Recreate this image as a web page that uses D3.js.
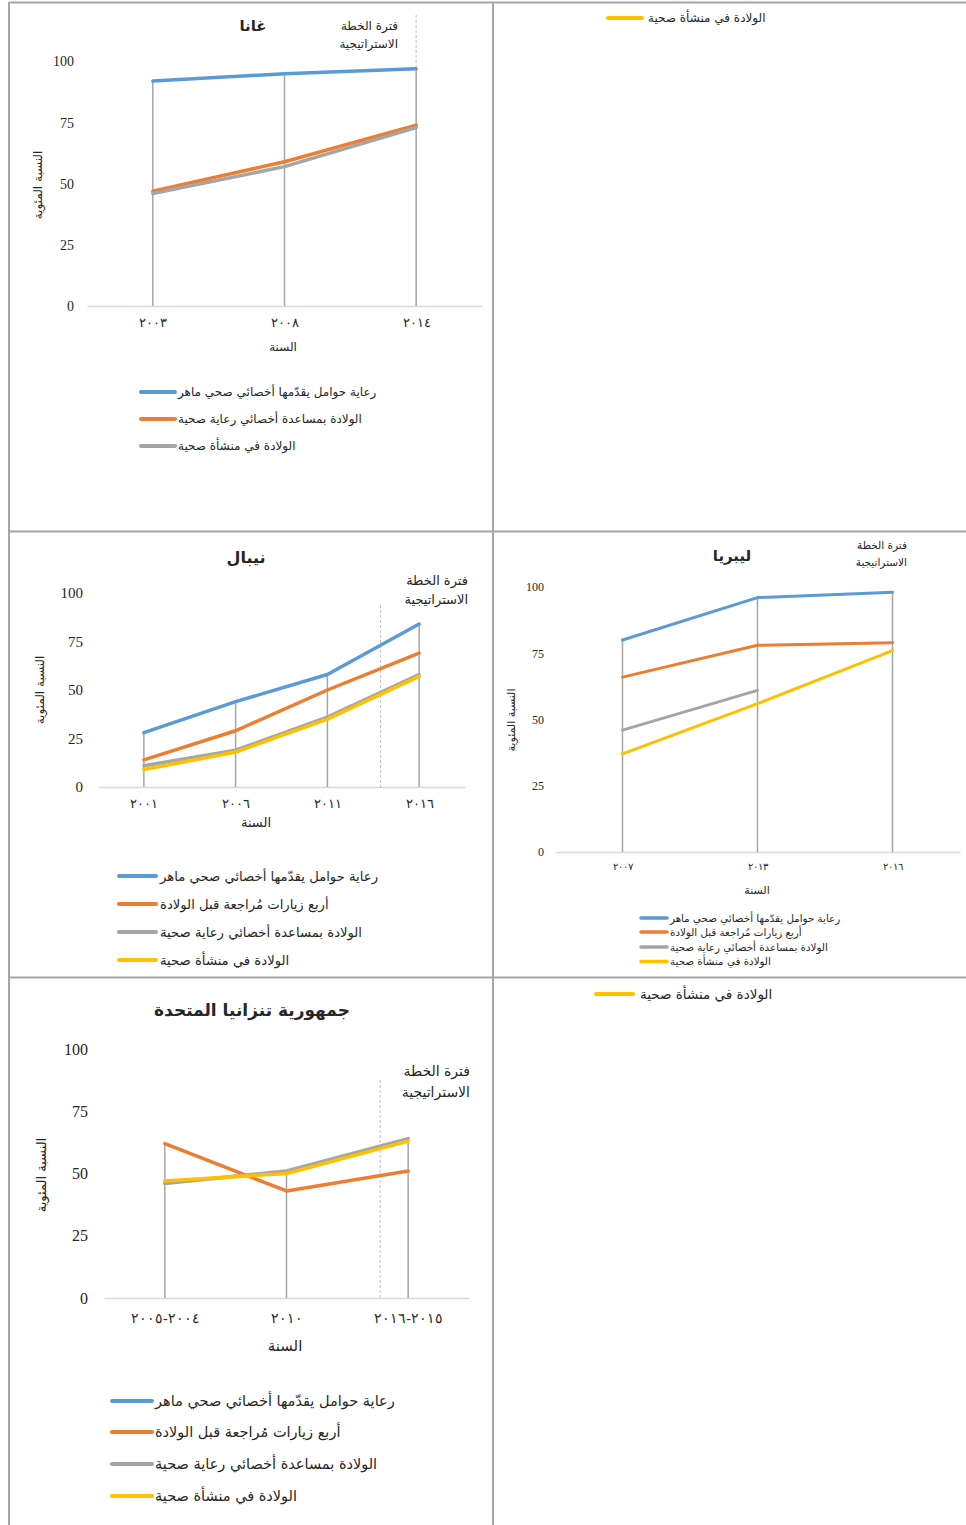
<!DOCTYPE html>
<html><head><meta charset="utf-8">
<script src="https://cdn.jsdelivr.net/npm/d3@7"></script>
<style>
body{margin:0;background:#fff;}
svg{display:block;}
text{fill:#262626;}
</style></head>
<body>
<div id="chart"></div>
<script>
// ---------- DATA ----------
const seriesNames = {
  anc: "رعاية حوامل يقدّمها أخصائي صحي ماهر",
  anc4: "أربع زيارات مُراجعة قبل الولادة",
  sba: "الولادة بمساعدة أخصائي رعاية صحية",
  facility: "الولادة في منشأة صحية"
};
const yTicks = [0, 25, 50, 75, 100];
const yTitle = "النسبة المئوية";
const xTitle = "السنة";
const planLabel = ["فترة الخطة", "الاستراتيجية"];

const ghanaTitle = "غانا";
const ghanaYears = ["٢٠٠٣", "٢٠٠٨", "٢٠١٤"];
const ghanaAnc = [92, 95, 97];
const ghanaSba = [47, 59, 74];
const ghanaFacility = [46, 57, 73];

const nepalTitle = "نيبال";
const nepalYears = ["٢٠٠١", "٢٠٠٦", "٢٠١١", "٢٠١٦"];
const nepalAnc = [28, 44, 58, 84];
const nepalAnc4 = [14, 29, 50, 69];
const nepalSba = [11, 19, 36, 58];
const nepalFacility = [9, 18, 35, 57];

const liberiaTitle = "ليبريا";
const liberiaYears = ["٢٠٠٧", "٢٠١٣", "٢٠١٦"];
const liberiaAnc = [80, 96, 98];
const liberiaAnc4 = [66, 78, 79];
const liberiaSba = [46, 61, null];
const liberiaFacility = [37, 56, 76];

const tanzaniaTitle = "جمهورية تنزانيا المتحدة";
const tanzaniaYears = ["٢٠٠٤-٢٠٠٥", "٢٠١٠", "٢٠١٥-٢٠١٦"];
const tanzaniaAnc = [null, null, null];
const tanzaniaAnc4 = [62, 43, 51];
const tanzaniaSba = [46, 51, 64];
const tanzaniaFacility = [47, 50, 63];

// ---------- STYLE ----------
const colors = { blue: "#5B9BD5", orange: "#ED7D31", gray: "#A5A5A5", yellow: "#FFC000" };
const arabicFont = "'DejaVu Sans', sans-serif";
const numFont = "'Liberation Serif', 'DejaVu Serif', serif";

const W = 966, H = 1525;
const svg = d3.select("#chart").append("svg").attr("width", W).attr("height", H);

// table borders
const border = "#A6A6A6";
const bl = svg.append("g").attr("stroke", border).attr("stroke-width", 2);
bl.append("line").attr("x1", 9).attr("x2", W).attr("y1", 2.5).attr("y2", 2.5);
bl.append("line").attr("x1", 9).attr("x2", 9).attr("y1", 2).attr("y2", H);
bl.append("line").attr("x1", 493).attr("x2", 493).attr("y1", 2).attr("y2", H);
bl.append("line").attr("x1", 9).attr("x2", W).attr("y1", 531.5).attr("y2", 531.5);
bl.append("line").attr("x1", 9).attr("x2", W).attr("y1", 977.5).attr("y2", 977.5);

function drawPanel(p) {
  const g = svg.append("g");
  const x = d3.scalePoint().domain(p.cats).range([p.x0, p.x1]).padding(0.5);
  const y = d3.scaleLinear().domain([0, 100]).range([p.y0, p.y100]);

  // y axis labels
  const ya = d3.axisLeft(y).tickValues(yTicks).tickSize(0).tickPadding(0);
  const yg = g.append("g").attr("transform", `translate(${p.yLabelX},0)`).call(ya);
  yg.select(".domain").remove();
  yg.selectAll("text").attr("font-family", numFont).attr("font-size", p.yFs).attr("fill", "#333");

  // x axis
  const xa = d3.axisBottom(x).tickSize(0).tickSizeOuter(0).tickPadding(p.xPad);
  const xg = g.append("g").attr("transform", `translate(0,${p.y0})`).call(xa);
  xg.select(".domain").attr("stroke", "#D9D9D9").attr("stroke-width", 1.5);
  xg.selectAll("text").attr("font-family", numFont).attr("font-size", p.xFs).attr("fill", "#333");

  // drop lines
  p.cats.forEach((c, i) => {
    const vals = p.series.map(s => s.values[i]).filter(v => v != null);
    const m = d3.max(vals);
    g.append("line").attr("x1", x(c)).attr("x2", x(c)).attr("y1", y(m)).attr("y2", y(0))
      .attr("stroke", "#A5A5A5").attr("stroke-width", 1.5);
  });

  // plan dashed marker
  if (p.plan) {
    const step = x.step();
    const px = x(p.cats[0]) + p.plan.pos * step;
    g.append("line").attr("x1", px).attr("x2", px).attr("y1", p.plan.yTop).attr("y2", p.plan.yBot)
      .attr("stroke", "#BFBFBF").attr("stroke-width", 1).attr("stroke-dasharray", "3,2");
  }

  // lines
  const line = d3.line().defined(d => d.v != null).x(d => x(d.c)).y(d => y(d.v));
  p.series.forEach(s => {
    const pts = p.cats.map((c, i) => ({ c, v: s.values[i] }));
    g.append("path").attr("d", line(pts)).attr("fill", "none")
      .attr("stroke", s.color).attr("stroke-width", p.lw).attr("stroke-linejoin", "round").attr("stroke-linecap", "round");
  });

  // title
  g.append("text").attr("x", p.title.x).attr("y", p.title.y).attr("text-anchor", "middle")
    .attr("font-family", arabicFont).attr("font-weight", "bold").attr("font-size", p.title.fs)
    .attr("fill", "#000").text(p.titleText);

  // plan annotation (right-aligned)
  planLabel.forEach((t, i) => {
    g.append("text").attr("x", p.ann.x).attr("y", p.ann.y + i * p.ann.dy).attr("text-anchor", "end")
      .attr("font-family", arabicFont).attr("font-size", p.ann.fs).attr("fill", "#333").text(t);
  });

  // axis titles
  g.append("text").attr("transform", `translate(${p.yTitle.x},${p.yTitle.y}) rotate(-90)`)
    .attr("text-anchor", "middle").attr("font-family", arabicFont).attr("font-size", p.yTitle.fs)
    .attr("fill", "#333").text(yTitle);
  if (p.xTitle) g.append("text").attr("x", p.xTitle.x).attr("y", p.xTitle.y).attr("text-anchor", "middle")
    .attr("font-family", arabicFont).attr("font-size", p.xTitle.fs).attr("fill", "#333").text(xTitle);

  // legend
  drawLegend(p.series, p.leg);
}

function drawLegend(series, L) {
  const g = svg.append("g");
  series.forEach((s, i) => {
    const yy = L.rows[i];
    g.append("line").attr("x1", L.lx0).attr("x2", L.lx1).attr("y1", yy).attr("y2", yy)
      .attr("stroke", s.color).attr("stroke-width", L.lw).attr("stroke-linecap", "round");
    g.append("text").attr("x", L.tx).attr("y", yy).attr("dy", "0.35em")
      .attr("font-family", arabicFont).attr("font-size", L.fs).attr("fill", "#222").text(s.name);
  });
}

// ---------- PANELS ----------
drawPanel({
  cats: ghanaYears, titleText: ghanaTitle,
  series: [
    { name: seriesNames.anc, values: ghanaAnc, color: colors.blue },
    { name: seriesNames.sba, values: ghanaSba, color: colors.orange },
    { name: seriesNames.facility, values: ghanaFacility, color: colors.gray }
  ],
  x0: 87, x1: 482, y0: 306, y100: 61.5, lw: 3.5,
  yLabelX: 74, yFs: 14, xFs: 13, xPad: 12,
  title: { x: 253, y: 31, fs: 15 },
  ann: { x: 398, y: 30, dy: 18, fs: 12 },
  plan: { pos: 2, yTop: 15, yBot: 68 },
  yTitle: { x: 42, y: 185, fs: 12 },
  xTitle: { x: 283, y: 351, fs: 12 },
  leg: { lx0: 141, lx1: 175, tx: 178, rows: [392, 419, 446], fs: 12, lw: 4 }
});

drawPanel({
  cats: nepalYears, titleText: nepalTitle,
  series: [
    { name: seriesNames.anc, values: nepalAnc, color: colors.blue },
    { name: seriesNames.anc4, values: nepalAnc4, color: colors.orange },
    { name: seriesNames.sba, values: nepalSba, color: colors.gray },
    { name: seriesNames.facility, values: nepalFacility, color: colors.yellow }
  ],
  x0: 98, x1: 465, y0: 787, y100: 593, lw: 3.5,
  yLabelX: 83, yFs: 15, xFs: 13, xPad: 12,
  title: { x: 246, y: 563, fs: 16 },
  ann: { x: 468, y: 585, dy: 19, fs: 13 },
  plan: { pos: 2.58, yTop: 605, yBot: 790 },
  yTitle: { x: 44, y: 690, fs: 12 },
  xTitle: { x: 256, y: 827, fs: 13 },
  leg: { lx0: 119, lx1: 156, tx: 160, rows: [876, 904, 932, 960], fs: 13.2, lw: 4 }
});

drawPanel({
  cats: liberiaYears, titleText: liberiaTitle,
  series: [
    { name: seriesNames.anc, values: liberiaAnc, color: colors.blue },
    { name: seriesNames.anc4, values: liberiaAnc4, color: colors.orange },
    { name: seriesNames.sba, values: liberiaSba, color: colors.gray },
    { name: seriesNames.facility, values: liberiaFacility, color: colors.yellow }
  ],
  x0: 555, x1: 960, y0: 852, y100: 587, lw: 3,
  yLabelX: 544, yFs: 12, xFs: 10, xPad: 11,
  title: { x: 732, y: 561, fs: 15 },
  ann: { x: 907, y: 549, dy: 17, fs: 10.5 },
  plan: null,
  yTitle: { x: 515, y: 720, fs: 11 },
  xTitle: { x: 757, y: 894, fs: 11 },
  leg: { lx0: 641, lx1: 667, tx: 670, rows: [918, 932, 947, 961.5], fs: 10.3, lw: 3.5 }
});

drawPanel({
  cats: tanzaniaYears, titleText: tanzaniaTitle,
  series: [
    { name: seriesNames.anc, values: tanzaniaAnc, color: colors.blue },
    { name: seriesNames.anc4, values: tanzaniaAnc4, color: colors.orange },
    { name: seriesNames.sba, values: tanzaniaSba, color: colors.gray },
    { name: seriesNames.facility, values: tanzaniaFacility, color: colors.yellow }
  ],
  x0: 104, x1: 469, y0: 1298, y100: 1049, lw: 3.5,
  yLabelX: 88, yFs: 16, xFs: 14, xPad: 15,
  title: { x: 252, y: 1016, fs: 17 },
  ann: { x: 470, y: 1076, dy: 21, fs: 14 },
  plan: { pos: 1.77, yTop: 1080, yBot: 1298 },
  yTitle: { x: 46, y: 1175, fs: 13 },
  xTitle: { x: 285, y: 1351, fs: 15 },
  leg: { lx0: 112, lx1: 152, tx: 155, rows: [1401, 1432, 1464, 1496], fs: 14.5, lw: 4 }
});

// standalone legends in right cells
drawLegend([{ name: seriesNames.facility, color: colors.yellow }],
  { lx0: 608, lx1: 642, tx: 648, rows: [18], fs: 12, lw: 4 });
drawLegend([{ name: seriesNames.facility, color: colors.yellow }],
  { lx0: 596, lx1: 633, tx: 640, rows: [994], fs: 13.5, lw: 4 });
</script>
</body></html>
